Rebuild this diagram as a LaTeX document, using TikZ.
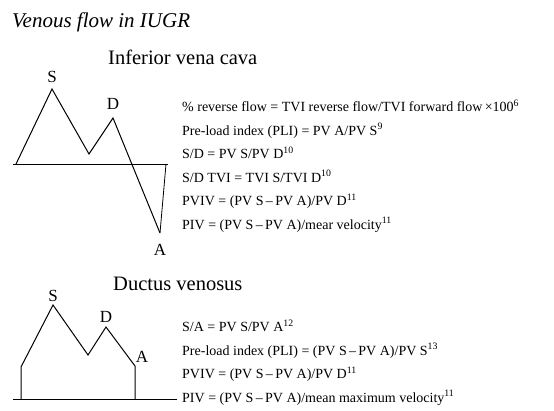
\documentclass[tikz,border=0pt]{standalone}
\usepackage{fontspec}
\setmainfont{Liberation Serif}
\begin{document}
\begin{tikzpicture}[x=1pt,y=-1pt,
  formula/.style={anchor=base west, inner sep=0pt, font=\fontsize{14}{16}\selectfont},
  peak/.style={inner sep=0pt, font=\fontsize{17}{19}\selectfont},
  heading/.style={anchor=base west, inner sep=0pt, font=\fontsize{20.5}{22}\selectfont},
  wave/.style={line width=1pt, line join=miter},
  axis/.style={line width=1pt}]
\useasboundingbox (0,0) rectangle (554,410);

% titles
\node[anchor=base west, inner sep=0pt, font=\fontsize{21}{23}\selectfont\itshape] (title) at (12,27) {Venous flow in IUGR};
\node[heading] (ivctitle) at (108,64) {Inferior vena cava};
\node[heading] (dvtitle) at (113,290) {Ductus venosus};

% IVC waveform
\coordinate (ivcL) at (13,164);
\coordinate (ivcR) at (168,164);
\coordinate (ivc0) at (16,164);
\coordinate (ivcS) at (52,89);
\coordinate (ivcT) at (89,154);
\coordinate (ivcD) at (113,118);
\coordinate (ivcA) at (160,233);
\coordinate (ivcE) at (166,164);
\draw[axis] (ivcL) -- (ivcR);
\draw[wave] (ivc0) -- (ivcS) -- (ivcT) -- (ivcD) -- (ivcA);
\draw[line width=0.8pt] (ivcA) -- (ivcE);
\node[peak] (ivcSl) at (52,77) {S};
\node[peak] (ivcDl) at (113,104) {D};
\node[peak] (ivcAl) at (160,250) {A};

% IVC formulas
\node[formula] (f1) at (182,111.5) {\% reverse flow = TVI reverse flow/TVI forward flow\,×100\textsuperscript{6}};
\node[formula] (f2) at (182,135) {Pre-load index (PLI) = PV A/PV S\textsuperscript{9}};
\node[formula] (f3) at (182,158.5) {S/D = PV S/PV D\textsuperscript{10}};
\node[formula] (f4) at (182,182) {S/D TVI = TVI S/TVI D\textsuperscript{10}};
\node[formula] (f5) at (182,205.5) {PVIV = (PV S\,–\,PV A)/PV D\textsuperscript{11}};
\node[formula] (f6) at (182,229) {PIV = (PV S\,–\,PV A)/mear velocity\textsuperscript{11}};

% DV waveform
\coordinate (dvL) at (13,399);
\coordinate (dvR) at (177,399);
\coordinate (dv0) at (21,399);
\coordinate (dv1) at (21,367);
\coordinate (dvS) at (53,305);
\coordinate (dvT) at (88,355);
\coordinate (dvD) at (106,327);
\coordinate (dvA) at (135,366);
\coordinate (dvE) at (135,399);
\draw[axis] (dvL) -- (dvR);
\draw[wave] (dv0) -- (dv1) -- (dvS) -- (dvT) -- (dvD) -- (dvA) -- (dvE);
\node[peak] (dvSl) at (53,296) {S};
\node[peak] (dvDl) at (106,317) {D};
\node[peak] (dvAl) at (142,357) {A};

% DV formulas
\node[formula] (g1) at (182,331.5) {S/A = PV S/PV A\textsuperscript{12}};
\node[formula] (g2) at (182,355) {Pre-load index (PLI) = (PV S\,–\,PV A)/PV S\textsuperscript{13}};
\node[formula] (g3) at (182,378.5) {PVIV = (PV S\,–\,PV A)/PV D\textsuperscript{11}};
\node[formula] (g4) at (182,402) {PIV = (PV S\,–\,PV A)/mean maximum velocity\textsuperscript{11}};
\end{tikzpicture}
\end{document}
